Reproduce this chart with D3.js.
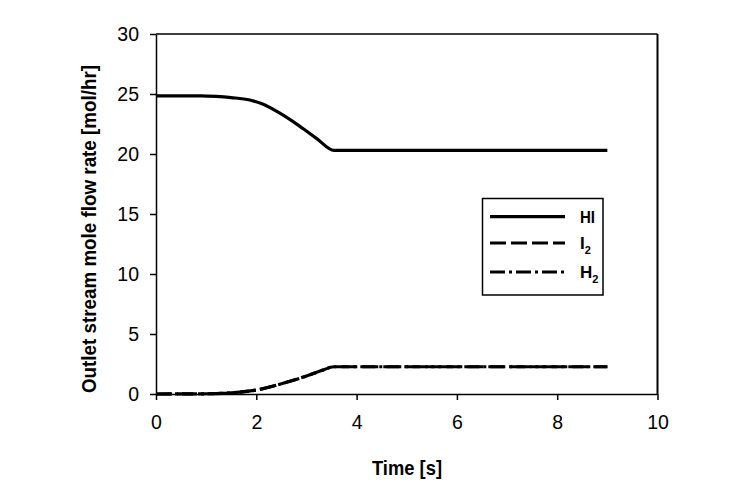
<!DOCTYPE html>
<html><head><meta charset="utf-8">
<script src="https://cdn.jsdelivr.net/npm/d3@7"></script>
<style>
body{margin:0;background:#fff;}
text{font-family:"Liberation Sans Narrow","Arial Narrow","Liberation Sans",Arial,sans-serif;fill:#000;}
</style></head>
<body><svg id="c" width="754" height="500"></svg>
<script>
const timeHI = [0, 0.9, 1.2, 1.5, 1.87, 2.1, 2.47, 2.87, 3.2, 3.55, 9];
const valHI  = [24.85, 24.85, 24.8, 24.7, 24.5, 24.2, 23.4, 22.3, 21.3, 20.3, 20.3];
const timeLow = [0, 1, 1.5, 2, 2.5, 3, 3.3, 3.55, 9];
const valI2  = [0, 0.02, 0.1, 0.33, 0.85, 1.5, 1.95, 2.27, 2.27];
const valH2  = [0, 0.02, 0.1, 0.33, 0.85, 1.5, 1.95, 2.27, 2.27];
const xTicks = [0, 2, 4, 6, 8, 10];
const yTicks = [0, 5, 10, 15, 20, 25, 30];
const seriesNames = ["HI", "I2", "H2"];

const svg = d3.select("#c");
const L = 156, R = 657.5, T = 34, B = 394;
const x = d3.scaleLinear().domain([0, 10]).range([L, R]);
const y = d3.scaleLinear().domain([0, 30]).range([B, T]);

// frame
svg.append("line").attr("x1", L).attr("x2", R).attr("y1", T).attr("y2", T).attr("stroke", "#000").attr("stroke-width", 1.5);
svg.append("line").attr("x1", R).attr("x2", R).attr("y1", T).attr("y2", B).attr("stroke", "#000").attr("stroke-width", 2);

const xAxis = svg.append("g").attr("transform", `translate(0,${B})`)
  .call(d3.axisBottom(x).tickValues(xTicks).tickSize(6).tickSizeOuter(0).tickPadding(12));
const yAxis = svg.append("g").attr("transform", `translate(${L},0)`)
  .call(d3.axisLeft(y).tickValues(yTicks).tickSize(6).tickSizeOuter(0).tickPadding(12));
[xAxis, yAxis].forEach(a => {
  a.select(".domain").attr("stroke", "#000").attr("stroke-width", 1.5);
  a.selectAll(".tick line").attr("stroke", "#000").attr("stroke-width", 1.5);
  a.selectAll(".tick text").style("font-family", "'Liberation Sans',Arial,sans-serif").style("font-size", "19.5px").attr("fill", "#000");
});
xAxis.selectAll(".tick text").attr("dy", "0.85em");
yAxis.selectAll(".tick text").attr("x", -17);

const line = d3.line().x(d => x(d[0])).y(d => y(d[1])).curve(d3.curveMonotoneX);
const dataHI = timeHI.map((t, i) => [t, valHI[i]]);
const dataI2 = timeLow.map((t, i) => [t, valI2[i]]);
const dataH2 = timeLow.map((t, i) => [t, valH2[i]]);
const styles = {HI: null, I2: "16,5", H2: "15,4,3,4"};

svg.append("path").datum(dataHI).attr("d", line).attr("fill", "none").attr("stroke", "#000").attr("stroke-width", 3.2);
svg.append("path").datum(dataI2).attr("d", line).attr("fill", "none").attr("stroke", "#000").attr("stroke-width", 3.2).attr("stroke-dasharray", styles.I2);
svg.append("path").datum(dataH2).attr("d", line).attr("fill", "none").attr("stroke", "#000").attr("stroke-width", 3.2).attr("stroke-dasharray", styles.H2);

// legend
const lg = svg.append("g");
lg.append("rect").attr("x", 482.5).attr("y", 198.5).attr("width", 120.5).attr("height", 96.5)
  .attr("fill", "#fff").attr("stroke", "#000").attr("stroke-width", 1.5);
const ly = [216.7, 243, 272];
seriesNames.forEach((n, i) => {
  lg.append("line").attr("x1", 490).attr("x2", 565).attr("y1", ly[i]).attr("y2", ly[i])
    .attr("stroke", "#000").attr("stroke-width", 3.2).attr("stroke-dasharray", styles[n]);
  const t = lg.append("text").attr("x", 580).attr("y", ly[i] + 6).style("font-size", "17px").style("font-weight", "bold");
  if (n === "HI") t.text("HI").attr("textLength", 15).attr("lengthAdjust", "spacingAndGlyphs");
  else {
    t.append("tspan").text(n[0]);
    t.append("tspan").attr("dy", 5).style("font-size", "11px").text("2");
  }
});

// axis titles
svg.append("text").attr("x", 407).attr("y", 475).attr("text-anchor", "middle")
  .attr("textLength", 70).attr("lengthAdjust", "spacingAndGlyphs")
  .style("font-size", "21px").style("font-weight", "bold").text("Time [s]");
svg.append("text").attr("transform", "translate(96,229) rotate(-90)").attr("text-anchor", "middle")
  .attr("textLength", 328).attr("lengthAdjust", "spacingAndGlyphs")
  .style("font-size", "21px").style("font-weight", "bold").text("Outlet stream mole flow rate [mol/hr]");
</script></body></html>
